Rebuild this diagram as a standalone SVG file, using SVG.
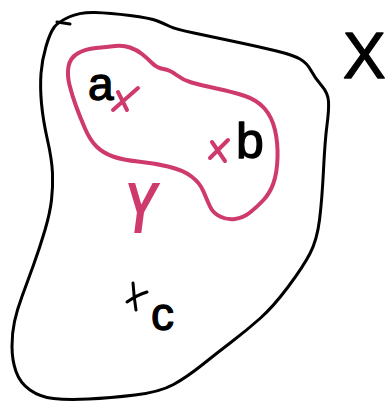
<svg xmlns="http://www.w3.org/2000/svg" width="391" height="405" viewBox="0 0 391 405">
<style>
.ink{fill:none;stroke:#000;stroke-width:3;stroke-linecap:round;stroke-linejoin:round}
.pink{fill:none;stroke:#cf3a6e;stroke-width:4;stroke-linecap:round;stroke-linejoin:round}
.lbl{font-family:"Liberation Sans","DejaVu Sans",sans-serif;fill:#000;stroke:#000;stroke-width:1.3;stroke-linejoin:round}
</style>
<rect width="391" height="405" fill="#fff"/>
<g id="setX">
<path class="ink" d="M 69,17 Q 80,12 95,12.5 Q 110,13 130,15.5 Q 150,18 157.5,21 Q 165,24 170,26.5 Q 175,29 194,33 Q 213,37 236.5,42 Q 260,47 276.5,51 Q 293,55 300,59 Q 307,63 311,70.5 Q 315,78 321.5,85.5 Q 328,93 328.5,101.5 Q 329,110 327,125 Q 325,140 323.5,170 Q 322,200 319.5,220 Q 317,240 310,253.5 Q 303,267 288,287 Q 273,307 260,318.5 Q 247,330 232,341.5 Q 217,353 202,365 Q 187,377 173.5,384.5 Q 160,392 135,395 Q 110,398 88.5,399 Q 67,400 53.5,398.5 Q 40,397 30,390 Q 20,383 16,371.5 Q 12,360 12,346.5 Q 12,333 14.5,321.5 Q 17,310 22,296.5 Q 27,283 33.5,265 Q 40,247 45,230 Q 50,213 51.5,200 Q 53,187 52.5,173.5 Q 52,160 47.5,140 Q 43,120 41.5,103.5 Q 40,87 41,73.5 Q 42,60 46,46.5 Q 50,33 54,27.5 Q 58,22 69,17 Z"/>
<path class="ink" stroke-width="2" d="M 57,22 L 70,24"/>
<text class="lbl" x="343" y="78" font-size="64" stroke-width="2.5">X</text>
</g>
<g id="setY">
<path class="pink" d="M 68.5,66.5 Q 70,58 77.5,53.5 Q 85,49 96,48 Q 107,47 115,46 Q 123,45 130,47.5 Q 137,50 142,54 Q 147,58 152,63 Q 157,68 163.5,69 Q 170,70 176.5,75 Q 183,80 191.5,82.5 Q 200,85 216.5,88.5 Q 233,92 245,96 Q 257,100 264.5,108.5 Q 272,117 275,130 Q 278,143 277.5,158 Q 277,173 273.5,183 Q 270,193 263.5,200 Q 257,207 250,212.5 Q 243,218 235,219 Q 227,220 220,216.5 Q 213,213 210,206.5 Q 207,200 203.5,191.5 Q 200,183 191.5,176.5 Q 183,170 168,166.5 Q 153,163 138,161.5 Q 123,160 113,156.5 Q 103,153 96.5,146.5 Q 90,140 85,128.5 Q 80,117 76,106 Q 72,95 69.5,85 Q 67,75 68.5,66.5 Z"/>
<text transform="translate(124,233) scale(0.68,1)" x="0" y="0" font-family="Liberation Sans, DejaVu Sans, sans-serif" font-size="72" font-weight="bold" font-style="italic" fill="#cf3a6e">Y</text>
</g>
<g id="point-a">
<path class="pink" d="M 113,110 L 138,88 M 118,92 L 127,110"/>
<text class="lbl" x="88" y="100" font-size="46">a</text>
</g>
<g id="point-b">
<path class="pink" d="M 210,158 L 228,140 M 212,142 L 225,161"/>
<text class="lbl" x="236" y="158" font-size="50">b</text>
</g>
<g id="point-c">
<path class="ink" d="M 127,302 Q 137,295 147,292 M 133,283 Q 134,298 136,310"/>
<text class="lbl" x="151" y="330" font-size="46">c</text>
</g>
<g id="connectors"/>
</svg>
